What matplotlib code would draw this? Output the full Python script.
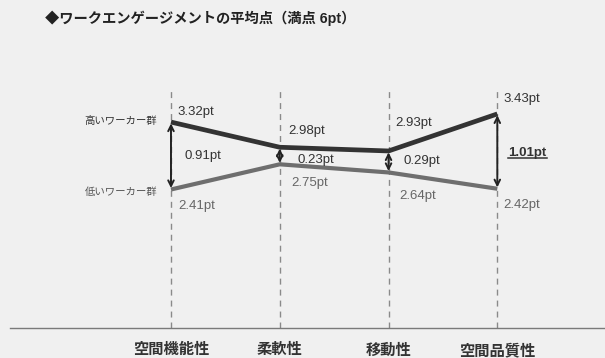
import matplotlib.pyplot as plt
from matplotlib.lines import Line2D
import numpy as np

plt.rcParams['font.family'] = ['Liberation Sans', 'Noto Sans CJK JP', 'DejaVu Sans']

title = "◆ワークエンゲージメントの平均点（満点 6pt）"
categories = ["空間機能性", "柔軟性", "移動性", "空間品質性"]
group_labels = ["高いワーカー群", "低いワーカー群"]
high_scores = [3.32, 2.98, 2.93, 3.43]
low_scores = [2.41, 2.75, 2.64, 2.42]

# label offsets in points (dx, dy) for each value label
high_offsets = [(5, 7.5), (6.5, 11.5), (5, 20), (4.3, 10.8)]
low_offsets = [(5, -12), (8.6, -13.5), (8, -17), (4.3, -12)]
diff_offsets = [(10, 0), (13, -3), (11, 0.5), (8, -1)]

bg = '#f0f0f0'
fig = plt.figure(figsize=(6.05, 3.58), dpi=100, facecolor=bg)
ax = fig.add_axes([10 / 605, 1 - 328 / 358, 1 - 10 / 605, 240 / 358])
ax.set_facecolor(bg)

x = np.arange(len(categories))
ax.set_xlim(-1.48, 3.99)
ax.set_ylim(0.54, 3.78)

for xi in x:
    ax.axvline(xi, color='#8a8a8a', lw=1, dashes=(4.3, 3.6), zorder=1)

ax.plot(x, low_scores, color='#6e6e6e', lw=3.0, solid_capstyle='butt', zorder=3)
ax.plot(x, high_scores, color='#333333', lw=3.4, solid_capstyle='butt', zorder=3)

# gap arrows
for xi, h, l in zip(x, high_scores, low_scores):
    ax.annotate('', xy=(xi, l), xytext=(xi, h),
                arrowprops=dict(arrowstyle='<->', color='#222222', lw=1.4,
                                shrinkA=1, shrinkB=1, mutation_scale=10), zorder=4)

for xi, v, (dx, dy) in zip(x, high_scores, high_offsets):
    ax.annotate(f"{v:.2f}pt", (xi, v), xytext=(dx, dy), textcoords='offset points',
                ha='left', va='center', fontsize=9.5, color='#333333')
for xi, v, (dx, dy) in zip(x, low_scores, low_offsets):
    ax.annotate(f"{v:.2f}pt", (xi, v), xytext=(dx, dy), textcoords='offset points',
                ha='left', va='center', fontsize=9.5, color='#666666')

gap_texts = []
for i, (xi, h, l, (dx, dy)) in enumerate(zip(x, high_scores, low_scores, diff_offsets)):
    last = i == len(x) - 1
    t = ax.annotate(f"{h - l:.2f}pt", (xi, (h + l) / 2), xytext=(dx, dy),
                    textcoords='offset points', ha='left', va='center', fontsize=9.5,
                    color='#333333', fontweight='bold' if last else 'normal')
    gap_texts.append(t)

ax.annotate(group_labels[0], (x[0], high_scores[0]), xytext=(-10, 1), textcoords='offset points',
            ha='right', va='center', fontsize=7.5, color='#333333')
ax.annotate(group_labels[1], (x[0], low_scores[0]), xytext=(-10, -1.5), textcoords='offset points',
            ha='right', va='center', fontsize=7.5, color='#555555')

ax.set_xticks(x, categories)
ax.tick_params(axis='x', length=0, pad=11, labelsize=11, labelcolor='#333333')
for lbl in ax.get_xticklabels():
    lbl.set_fontweight('bold')
ax.set_yticks([])
for side in ['top', 'right', 'left']:
    ax.spines[side].set_visible(False)
ax.spines['bottom'].set_color('#7a7a7a')
ax.spines['bottom'].set_linewidth(1)

fig.text(45 / 605, 1 - 18 / 358, title, ha='left', va='center', fontsize=10.3,
         fontweight='bold', color='#222222')

# underline the biggest gap label
fig.canvas.draw()
bb = gap_texts[-1].get_window_extent(fig.canvas.get_renderer())
inv = fig.transFigure.inverted()
(x0, y0), (x1, _) = inv.transform([(bb.x0, bb.y0 + 1), (bb.x1, bb.y0)])
fig.add_artist(Line2D([x0, x1], [y0, y0], transform=fig.transFigure, color='#333333', lw=1.1))

fig.savefig('out.png', dpi=100, facecolor=bg)
